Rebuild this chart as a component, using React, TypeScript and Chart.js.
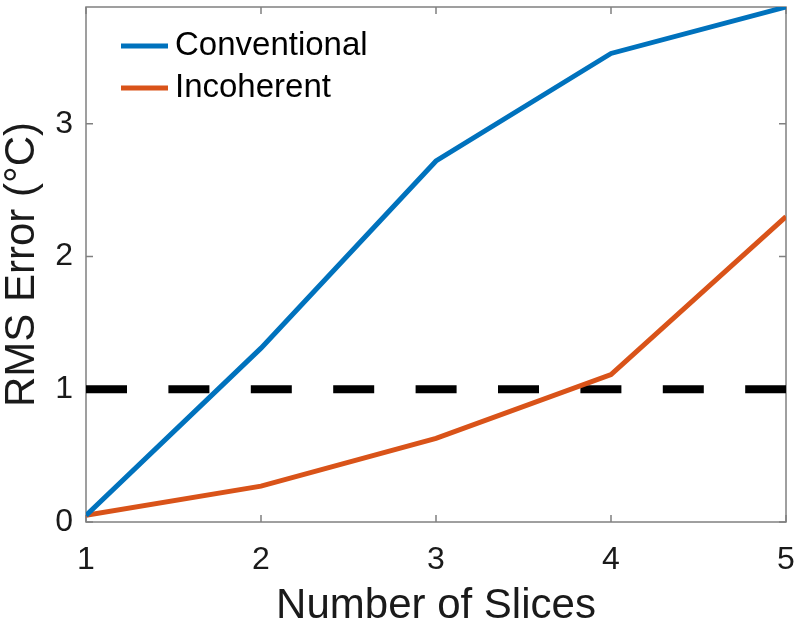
import React, { useEffect, useRef } from "react";
import { Chart, registerables } from "chart.js";

Chart.register(...registerables);

const slices = [1, 2, 3, 4, 5];
const conventional = [0.05, 1.31, 2.72, 3.53, 3.88];
const incoherent = [0.05, 0.27, 0.63, 1.11, 2.3];
const threshold = [1, 1, 1, 1, 1];
const xTicks = [1, 2, 3, 4, 5];
const yTicks = [0, 1, 2, 3];
const seriesLabels = ["Conventional", "Incoherent"];
const seriesColors = ["#0072BD", "#D95319"];
const xTitle = "Number of Slices";
const yTitle = "RMS Error (°C)";

const FONT = "'Liberation Sans', Arial, Helvetica, sans-serif";

export default function App() {
  const ref = useRef<HTMLCanvasElement>(null);

  useEffect(() => {
    document.body.style.margin = "0";
    const canvas = ref.current;
    if (!canvas) return;

    const boxPlugin = {
      id: "matlabBox",
      beforeDatasetsDraw(chart: any) {
        const { ctx, chartArea } = chart;
        const { left, right, top, bottom } = chartArea;
        const xs = chart.scales.x;
        const ys = chart.scales.y;
        ctx.save();
        ctx.strokeStyle = "#808080";
        ctx.lineWidth = 1.5;
        ctx.strokeRect(left, top, right - left, bottom - top);
        const tl = 7;
        ctx.beginPath();
        xTicks.forEach((v) => {
          const px = xs.getPixelForValue(v);
          ctx.moveTo(px, bottom);
          ctx.lineTo(px, bottom - tl);
          ctx.moveTo(px, top);
          ctx.lineTo(px, top + tl);
        });
        yTicks.forEach((v) => {
          const py = ys.getPixelForValue(v);
          ctx.moveTo(left, py);
          ctx.lineTo(left + tl, py);
          ctx.moveTo(right, py);
          ctx.lineTo(right - tl, py);
        });
        ctx.stroke();
        ctx.restore();
      },
      afterDraw(chart: any) {
        const { ctx } = chart;
        ctx.save();
        ctx.font = `33px ${FONT}`;
        ctx.textBaseline = "middle";
        ctx.textAlign = "left";
        seriesLabels.forEach((lab, i) => {
          const y = 46 + i * 42;
          ctx.strokeStyle = seriesColors[i];
          ctx.lineWidth = 5;
          ctx.beginPath();
          ctx.moveTo(121, y);
          ctx.lineTo(168, y);
          ctx.stroke();
          ctx.fillStyle = "#000";
          ctx.fillText(lab, 175, y);
        });
        ctx.restore();
      },
    };

    const chart = new Chart(canvas, {
      type: "line",
      data: {
        datasets: [
          {
            label: seriesLabels[0],
            data: slices.map((x, i) => ({ x, y: conventional[i] })),
            borderColor: seriesColors[0],
            backgroundColor: seriesColors[0],
            borderWidth: 5,
            pointRadius: 0,
            tension: 0,
          },
          {
            label: seriesLabels[1],
            data: slices.map((x, i) => ({ x, y: incoherent[i] })),
            borderColor: seriesColors[1],
            backgroundColor: seriesColors[1],
            borderWidth: 5,
            pointRadius: 0,
            tension: 0,
          },
          {
            label: "threshold",
            data: slices.map((x, i) => ({ x, y: threshold[i] })),
            borderColor: "#000",
            borderWidth: 8,
            borderDash: [41, 41.4],
            pointRadius: 0,
            tension: 0,
          },
        ],
      },
      options: {
        animation: false,
        responsive: false,
        maintainAspectRatio: false,
        layout: { padding: { left: 0, top: 7, right: 14, bottom: 0 } },
        plugins: {
          legend: { display: false },
          tooltip: { enabled: false },
        },
        scales: {
          x: {
            type: "linear",
            min: 1,
            max: 5,
            afterBuildTicks: (s: any) => {
              s.ticks = xTicks.map((v) => ({ value: v }));
            },
            afterFit: (s: any) => {
              s.height = 110;
              s.paddingLeft = 0;
              s.paddingRight = 0;
            },
            grid: { display: false, drawTicks: false },
            border: { display: false },
            ticks: {
              color: "#1a1a1a",
              font: { family: FONT, size: 32 },
              padding: 19,
              maxRotation: 0,
            },
            title: {
              display: true,
              text: xTitle,
              color: "#1a1a1a",
              font: { family: FONT, size: 42, lineHeight: 1 },
              padding: { top: 0, bottom: 5 },
            },
          },
          y: {
            type: "linear",
            min: 0,
            max: 3.88,
            afterBuildTicks: (s: any) => {
              s.ticks = yTicks.map((v) => ({ value: v }));
            },
            afterFit: (s: any) => {
              s.width = 86;
              s.paddingTop = 0;
              s.paddingBottom = 0;
            },
            grid: { display: false, drawTicks: false },
            border: { display: false },
            ticks: {
              color: "#1a1a1a",
              font: { family: FONT, size: 32 },
              padding: 13,
            },
            title: {
              display: true,
              text: yTitle,
              color: "#1a1a1a",
              font: { family: FONT, size: 42, lineHeight: 1 },
              padding: { top: 1, bottom: 0 },
            },
          },
        },
      },
      plugins: [boxPlugin],
    } as any);

    return () => chart.destroy();
  }, []);

  return (
    <div style={{ width: 800, height: 632 }}>
      <canvas ref={ref} width={800} height={632} style={{ display: "block" }} />
    </div>
  );
}
